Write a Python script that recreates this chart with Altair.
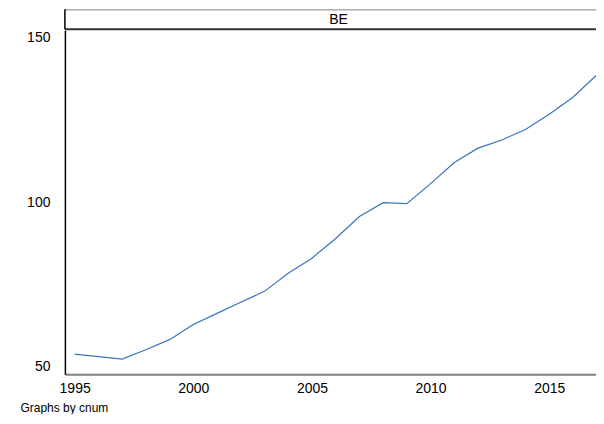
import altair as alt
import pandas as pd

# Data
years = list(range(1995, 2018))
values = [53.7, 52.9, 52.2, 55.0, 58.1, 62.7, 66.1, 69.5, 72.8, 78.3, 82.9, 88.9,
          95.6, 99.8, 99.5, 105.6, 112.0, 116.4, 118.9, 122.1, 126.7, 131.9, 138.7]
panel = ["BE"]
y_ticks = [50, 100, 150]
x_ticks = [1995, 2000, 2005, 2010, 2015]
note = "Graphs by cnum"

FONT = "Liberation Sans"
W = 545
X0 = 1994.59
X1 = X0 + W / 23.77

df = pd.DataFrame({"year": years, "value": values, "cnum": panel * len(years)})
strip_df = pd.DataFrame({"cnum": panel})

strip_base = alt.Chart(strip_df)
strip_text = strip_base.mark_text(
    font=FONT, fontSize=14, color="black", baseline="middle", align="center"
).encode(text="cnum:N", x=alt.value(274), y=alt.value(10.5))
strip_top = strip_base.mark_rule(color="#9a9a9a", strokeWidth=1.2).encode(
    x=alt.value(0), x2=alt.value(W), y=alt.value(0.6))
strip_bottom = strip_base.mark_rule(color="#333333", strokeWidth=2).encode(
    x=alt.value(0), x2=alt.value(W), y=alt.value(20))
strip_left = strip_base.mark_rule(color="black", strokeWidth=1.5).encode(
    x=alt.value(0), y=alt.value(0), y2=alt.value(20))

strip = alt.layer(strip_top, strip_bottom, strip_left, strip_text).properties(
    width=W, height=20,
    view=alt.ViewBackground(stroke=None, fill="white"),
)

main = alt.Chart(df).mark_line(color="#3a74bd", strokeWidth=1.2, clip=False).encode(
    x=alt.X(
        "year:Q",
        scale=alt.Scale(domain=[X0, X1], nice=False, zero=False),
        axis=alt.Axis(
            values=x_ticks, format="d", grid=False, ticks=False,
            domainColor="#808080", domainWidth=2,
            labelFont=FONT, labelFontSize=14, labelColor="black",
            labelPadding=7, labelFlush=False,
            title=note, titleFont=FONT, titleFontSize=12, titleFontWeight="normal",
            titleColor="black", titleAnchor="start", titleAlign="left",
            titleBaseline="middle", titleX=-45, titleY=33,
        ),
    ),
    y=alt.Y(
        "value:Q",
        scale=alt.Scale(domain=[47.57, 152.28], nice=False, zero=False),
        axis=alt.Axis(
            values=y_ticks, grid=False, ticks=False,
            domainColor="black", domainWidth=1.5,
            labelFont=FONT, labelFontSize=14, labelColor="black",
            labelPadding=15, minExtent=57, maxExtent=57, title=None,
        ),
    ),
).properties(
    width=W, height=344.5,
    view=alt.ViewBackground(stroke=None),
)

chart = alt.vconcat(strip, main, spacing=0).properties(
    padding={"left": 0, "top": 0, "right": -14, "bottom": 0},
    background="white",
).configure_view(strokeWidth=0)

chart.save("out.html", embed_options={"renderer": "svg", "actions": False})
